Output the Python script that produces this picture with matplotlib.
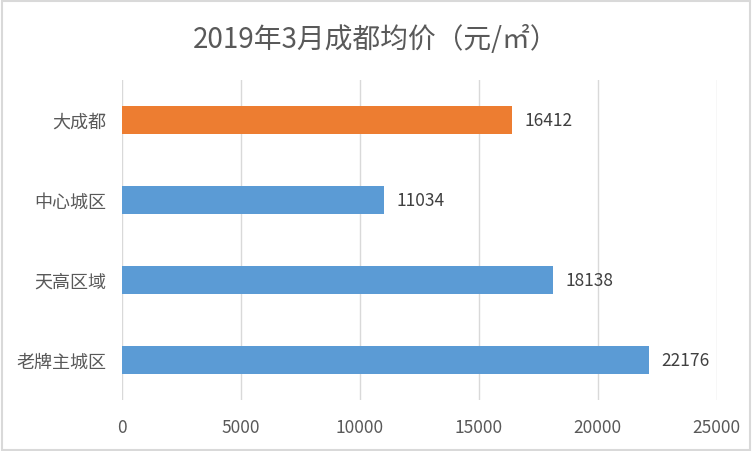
import matplotlib
matplotlib.use('Agg')
from matplotlib import pyplot as plt
from matplotlib.patches import Rectangle

plt.rcParams['font.family'] = ['Noto Sans CJK SC', 'DejaVu Sans']

categories = ['老牌主城区', '天高区域', '中心城区', '大成都']
prices = [22176, 18138, 11034, 16412]
colors = ['#5B9BD5', '#5B9BD5', '#5B9BD5', '#ED7D31']
xticks = [0, 5000, 10000, 15000, 20000, 25000]

fig = plt.figure(figsize=(7.52, 4.52), dpi=100)
ax = fig.add_axes([0.162, 0.113, 0.791, 0.708])

y = range(len(categories))
bars = ax.barh(y, prices, height=0.35, color=colors, zorder=3)
for i, v in enumerate(prices):
    ax.text(v + 500, i, str(v), va='center', ha='left', fontsize=12.5, color='#404040')

ax.set_yticks(list(y))
ax.set_yticklabels(categories, fontsize=13, color='#595959')
ax.set_xticks(xticks)
ax.set_xticklabels([str(t) for t in xticks], fontsize=12.5, color='#595959')
ax.set_xlim(0, 25000)
ax.set_ylim(-0.5, 3.5)
ax.tick_params(length=0, pad=11)
ax.tick_params(axis='x', pad=13)
ax.grid(axis='x', color='#d9d9d9', linewidth=1, zorder=0)
for s in ax.spines.values():
    s.set_visible(False)

fig.text(0.5, 0.912, '2019年3月成都均价（元/㎡）', ha='center', va='center',
         fontsize=20, color='#595959')
fig.patches.append(Rectangle((0.002, 0.003), 0.995, 0.993, transform=fig.transFigure,
                             fill=False, edgecolor='#d9d9d9', linewidth=1.5))

plt.savefig('out.png', dpi=100)
